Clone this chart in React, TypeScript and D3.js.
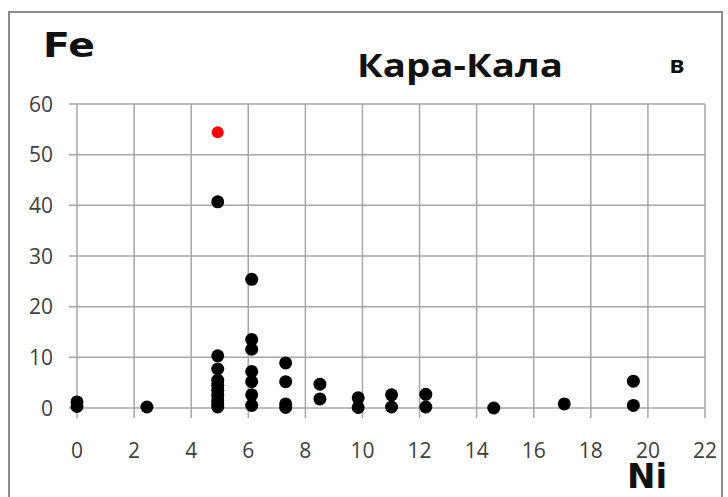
import React, { useEffect, useRef } from 'react'
import * as d3 from 'd3'

// Ni (x) and Fe (y) of the black points
const niValues = [0, 0, 2.45,
  4.93, 4.93, 4.93, 4.93, 4.93, 4.93, 4.93, 4.93, 4.93, 4.93,
  6.12, 6.12, 6.12, 6.12, 6.12, 6.12, 6.12,
  7.31, 7.31, 7.31, 7.31,
  8.51, 8.51, 9.85, 9.85, 11.02, 11.02, 12.22, 12.22,
  14.6, 17.07, 19.49, 19.49]
const feValues = [0.3, 1.2, 0.2,
  40.7, 10.3, 7.7, 5.5, 4.5, 3.5, 2.5, 1.5, 0.8, 0.2,
  25.4, 13.5, 11.6, 7.2, 5.2, 2.6, 0.5,
  8.9, 5.2, 0.8, 0.1,
  4.7, 1.8, 2.0, 0.1, 2.6, 0.2, 2.7, 0.2,
  0.0, 0.8, 5.3, 0.5]
// the one red point
const redNi = [4.93]
const redFe = [54.4]

const xTicks = [0, 2, 4, 6, 8, 10, 12, 14, 16, 18, 20, 22]
const yTicks = [0, 10, 20, 30, 40, 50, 60]

const W = 728
const H = 497

function Chart() {
  const ref = useRef<SVGSVGElement>(null)

  useEffect(() => {
    const svg = d3.select(ref.current)
    svg.selectAll('*').remove()

    const x = d3.scaleLinear().domain([0, 22]).range([77, 705])
    const y = d3.scaleLinear().domain([0, 60]).range([408, 104])
    const grid = '#a6a6a6'

    svg.append('rect').attr('width', W).attr('height', H).attr('fill', '#fff')
    // outer frame
    svg.append('rect')
      .attr('x', 9).attr('y', 12).attr('width', 713).attr('height', 500)
      .attr('fill', 'none').attr('stroke', '#8c8c8c').attr('stroke-width', 2)

    const g = svg.append('g')
    // vertical grid lines + ticks below
    g.selectAll('line.vx').data(xTicks).enter().append('line')
      .attr('x1', d => x(d)).attr('x2', d => x(d))
      .attr('y1', y(60)).attr('y2', y(0) + 10)
      .attr('stroke', grid).attr('stroke-width', 1.5)
    // horizontal grid lines + ticks left
    g.selectAll('line.hy').data(yTicks).enter().append('line')
      .attr('x1', x(0) - 8).attr('x2', x(22))
      .attr('y1', d => y(d)).attr('y2', d => y(d))
      .attr('stroke', grid).attr('stroke-width', 1.5)

    const tickFont = "'Open Sans', sans-serif"
    g.selectAll('text.xl').data(xTicks).enter().append('text')
      .attr('x', d => x(d)).attr('y', 458)
      .attr('text-anchor', 'middle')
      .attr('font-family', tickFont).attr('font-size', 21).attr('fill', '#404040')
      .text(d => d)
    g.selectAll('text.yl').data(yTicks).enter().append('text')
      .attr('x', 53).attr('y', d => y(d) + 7.5)
      .attr('text-anchor', 'end')
      .attr('font-family', tickFont).attr('font-size', 21).attr('fill', '#404040')
      .text(d => d)

    g.selectAll('circle.b').data(niValues).enter().append('circle')
      .attr('cx', d => x(d)).attr('cy', (d, i) => y(feValues[i]))
      .attr('r', 6.5).attr('fill', '#000')
    g.selectAll('circle.r').data(redNi).enter().append('circle')
      .attr('cx', d => x(d)).attr('cy', (d, i) => y(redFe[i]))
      .attr('r', 6).attr('fill', '#ff0000')

    svg.append('text').attr('x', 43).attr('y', 57)
      .attr('font-family', "'DejaVu Sans', sans-serif").attr('font-weight', 'bold')
      .attr('font-size', 34).attr('textLength', 52).attr('lengthAdjust', 'spacingAndGlyphs')
      .attr('fill', '#111').text('Fe')
    svg.append('text').attr('x', 357).attr('y', 77)
      .attr('font-family', "'Open Sans', sans-serif").attr('font-weight', 'bold')
      .attr('font-size', 33).attr('textLength', 206).attr('lengthAdjust', 'spacingAndGlyphs')
      .attr('fill', '#111').text('Кара-Кала')
    svg.append('text').attr('x', 677).attr('y', 73).attr('text-anchor', 'middle')
      .attr('font-family', "'Open Sans', sans-serif").attr('font-weight', 'bold')
      .attr('font-size', 24).attr('fill', '#111').text('в')
    svg.append('text').attr('x', 647).attr('y', 488).attr('text-anchor', 'middle')
      .attr('font-family', "'DejaVu Sans', sans-serif").attr('font-weight', 'bold')
      .attr('font-size', 34).attr('fill', '#111').text('Ni')
  }, [])

  return <svg ref={ref} width={W} height={H} style={{ position: 'absolute', left: 0, top: 0 }} />
}

export default function App() {
  return <Chart />
}
